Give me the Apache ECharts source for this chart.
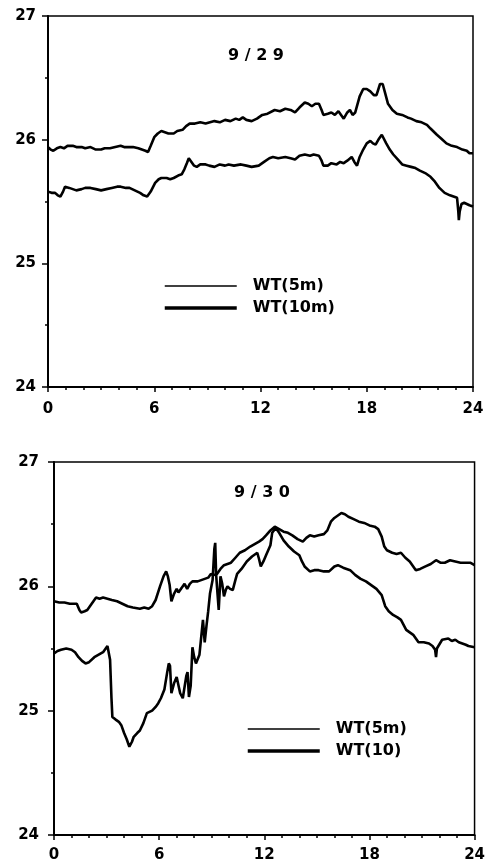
<!DOCTYPE html>
<html><head><meta charset="utf-8">
<script src="https://cdn.jsdelivr.net/npm/echarts@6/dist/echarts.min.js"></script>
<style>html,body{margin:0;padding:0;background:#fff}#c{width:488px;height:865px}</style>
</head><body><div id="c"></div>
<script>
const xTicks = [0, 6, 12, 18, 24];
const yTicks = [24, 25, 26, 27];
const titles = ['9 / 2 9', '9 / 3 0'];
const legendTop = ['WT(5m)', 'WT(10m)'];
const legendBottom = ['WT(5m)', 'WT(10)'];

const wt5_929 = [[0,25.94],[0.15,25.92],[0.3,25.91],[0.5,25.93],[0.7,25.94],[0.9,25.93],[1.1,25.95],[1.4,25.95],[1.6,25.94],[1.9,25.94],[2.1,25.93],[2.4,25.94],[2.7,25.92],[3.0,25.92],[3.2,25.93],[3.5,25.93],[3.8,25.94],[4.1,25.95],[4.3,25.94],[4.6,25.94],[4.8,25.94],[5.1,25.93],[5.3,25.92],[5.5,25.91],[5.65,25.90],[5.8,25.95],[6.0,26.02],[6.2,26.05],[6.4,26.07],[6.6,26.06],[6.8,26.05],[7.1,26.05],[7.3,26.07],[7.6,26.08],[7.8,26.11],[8.0,26.13],[8.3,26.13],[8.6,26.14],[8.9,26.13],[9.15,26.14],[9.4,26.15],[9.7,26.14],[10.0,26.16],[10.3,26.15],[10.6,26.17],[10.8,26.16],[11.0,26.18],[11.2,26.16],[11.5,26.15],[11.8,26.17],[12.1,26.20],[12.4,26.21],[12.8,26.24],[13.1,26.23],[13.4,26.25],[13.7,26.24],[13.95,26.22],[14.2,26.26],[14.5,26.30],[14.7,26.29],[14.9,26.27],[15.1,26.29],[15.3,26.29],[15.45,26.24],[15.55,26.20],[15.8,26.21],[16.0,26.22],[16.2,26.20],[16.4,26.23],[16.5,26.22],[16.7,26.17],[16.9,26.22],[17.05,26.24],[17.2,26.20],[17.35,26.22],[17.6,26.35],[17.8,26.41],[18.0,26.41],[18.2,26.39],[18.4,26.36],[18.55,26.36],[18.75,26.45],[18.9,26.45],[19.05,26.37],[19.2,26.29],[19.45,26.24],[19.7,26.21],[20.0,26.20],[20.3,26.18],[20.5,26.17],[20.8,26.15],[21.1,26.14],[21.4,26.12],[21.6,26.09],[21.96,26.04],[22.2,26.01],[22.5,25.97],[22.8,25.95],[23.1,25.94],[23.4,25.92],[23.65,25.91],[23.8,25.89],[24,25.89]];

const wt10_929 = [[0,25.58],[0.2,25.57],[0.4,25.57],[0.55,25.55],[0.7,25.54],[0.85,25.58],[0.96,25.62],[1.2,25.61],[1.4,25.60],[1.6,25.59],[1.9,25.60],[2.1,25.61],[2.4,25.61],[2.7,25.60],[3.0,25.59],[3.3,25.60],[3.6,25.61],[3.9,25.62],[4.1,25.62],[4.4,25.61],[4.6,25.61],[4.9,25.59],[5.2,25.57],[5.4,25.55],[5.6,25.54],[5.8,25.58],[6.05,25.65],[6.25,25.68],[6.4,25.69],[6.7,25.69],[6.9,25.68],[7.1,25.69],[7.35,25.71],[7.55,25.72],[7.7,25.76],[7.84,25.81],[7.95,25.85],[8.1,25.82],[8.25,25.79],[8.4,25.78],[8.6,25.80],[8.9,25.80],[9.1,25.79],[9.4,25.78],[9.7,25.80],[10.0,25.79],[10.2,25.80],[10.5,25.79],[10.9,25.80],[11.2,25.79],[11.5,25.78],[11.9,25.79],[12.2,25.82],[12.5,25.85],[12.7,25.86],[13.0,25.85],[13.4,25.86],[13.7,25.85],[13.95,25.84],[14.2,25.87],[14.5,25.88],[14.8,25.87],[15.0,25.88],[15.3,25.87],[15.45,25.83],[15.55,25.79],[15.8,25.79],[16.0,25.81],[16.3,25.80],[16.5,25.82],[16.7,25.81],[16.9,25.83],[17.15,25.86],[17.3,25.82],[17.45,25.79],[17.6,25.86],[17.8,25.92],[18.0,25.97],[18.2,25.99],[18.35,25.97],[18.5,25.96],[18.7,26.01],[18.85,26.04],[18.95,26.04],[19.1,25.97],[19.3,25.92],[19.5,25.88],[19.75,25.84],[20.0,25.80],[20.25,25.79],[20.5,25.78],[20.75,25.77],[21.0,25.75],[21.3,25.73],[21.6,25.70],[21.85,25.66],[22.1,25.61],[22.4,25.57],[22.7,25.55],[22.9,25.54],[23.1,25.53],[23.17,25.42],[23.2,25.35],[23.25,25.42],[23.35,25.48],[23.5,25.49],[23.65,25.48],[23.8,25.47],[24,25.46]];

const wt5_930 = [[0,25.88],[0.3,25.87],[0.6,25.87],[0.9,25.86],[1.1,25.86],[1.3,25.86],[1.45,25.81],[1.55,25.79],[1.75,25.80],[1.9,25.81],[2.1,25.85],[2.4,25.91],[2.6,25.90],[2.8,25.91],[3.05,25.90],[3.3,25.89],[3.6,25.88],[3.9,25.86],[4.2,25.84],[4.5,25.83],[4.9,25.82],[5.15,25.83],[5.4,25.82],[5.6,25.84],[5.8,25.89],[6.05,26.00],[6.25,26.08],[6.4,26.12],[6.5,26.08],[6.6,26.01],[6.7,25.88],[6.85,25.94],[7.0,25.98],[7.1,25.95],[7.2,25.96],[7.35,26.00],[7.45,26.02],[7.6,25.98],[7.75,26.02],[7.9,26.04],[8.2,26.04],[8.4,26.05],[8.6,26.06],[8.8,26.07],[8.95,26.10],[9.1,26.09],[9.3,26.10],[9.5,26.14],[9.7,26.17],[9.9,26.18],[10.1,26.19],[10.35,26.23],[10.6,26.27],[10.9,26.29],[11.2,26.32],[11.45,26.34],[11.7,26.36],[11.9,26.38],[12.1,26.41],[12.35,26.45],[12.6,26.48],[12.85,26.46],[13.1,26.44],[13.35,26.43],[13.6,26.41],[13.9,26.38],[14.2,26.36],[14.4,26.39],[14.6,26.41],[14.85,26.40],[15.1,26.41],[15.4,26.42],[15.6,26.45],[15.8,26.52],[16.0,26.55],[16.2,26.57],[16.4,26.59],[16.6,26.58],[16.8,26.56],[17.1,26.54],[17.4,26.52],[17.7,26.51],[18.0,26.49],[18.3,26.48],[18.5,26.46],[18.7,26.40],[18.85,26.32],[19.0,26.29],[19.3,26.27],[19.55,26.26],[19.8,26.27],[20.05,26.23],[20.3,26.20],[20.5,26.16],[20.65,26.13],[20.9,26.14],[21.2,26.16],[21.5,26.18],[21.8,26.21],[22.05,26.19],[22.3,26.19],[22.6,26.21],[22.9,26.20],[23.2,26.19],[23.5,26.19],[23.75,26.19],[24,26.17]];

const wt10_930 = [[0,25.46],[0.2,25.48],[0.4,25.49],[0.7,25.50],[1.0,25.49],[1.2,25.47],[1.4,25.43],[1.6,25.40],[1.8,25.38],[2.0,25.39],[2.3,25.43],[2.55,25.45],[2.8,25.47],[3.05,25.52],[3.15,25.52],[3.2,25.41],[3.28,25.10],[3.33,24.95],[3.5,24.93],[3.7,24.91],[3.85,24.88],[4.0,24.82],[4.15,24.77],[4.3,24.71],[4.45,24.75],[4.55,24.79],[4.75,24.82],[4.9,24.84],[5.1,24.90],[5.3,24.98],[5.45,24.99],[5.6,25.00],[5.8,25.03],[5.95,25.06],[6.1,25.10],[6.3,25.17],[6.45,25.30],[6.55,25.38],[6.62,25.36],[6.7,25.14],[6.85,25.22],[7.0,25.27],[7.2,25.14],[7.35,25.10],[7.45,25.11],[7.55,25.28],[7.62,25.31],[7.7,25.11],[7.8,25.20],[7.9,25.51],[8.0,25.43],[8.1,25.38],[8.3,25.45],[8.5,25.73],[8.6,25.55],[8.7,25.68],[8.8,25.80],[8.9,25.94],[9.05,26.05],[9.15,26.30],[9.2,26.35],[9.25,26.10],[9.3,26.00],[9.4,25.81],[9.5,26.08],[9.6,26.02],[9.7,25.92],[9.8,25.97],[9.9,26.00],[10.05,25.98],[10.2,25.97],[10.35,26.05],[10.45,26.10],[10.7,26.14],[11.0,26.20],[11.3,26.24],[11.6,26.27],[11.7,26.22],[11.8,26.16],[11.95,26.20],[12.1,26.25],[12.35,26.33],[12.45,26.43],[12.65,26.47],[12.85,26.43],[13.1,26.37],[13.4,26.32],[13.7,26.28],[14.0,26.25],[14.15,26.20],[14.3,26.16],[14.6,26.12],[14.85,26.13],[15.1,26.13],[15.4,26.12],[15.7,26.12],[16.0,26.16],[16.2,26.17],[16.5,26.15],[16.9,26.13],[17.2,26.09],[17.5,26.06],[17.8,26.04],[18.0,26.02],[18.2,26.00],[18.4,25.98],[18.7,25.93],[18.9,25.84],[19.1,25.80],[19.35,25.77],[19.6,25.75],[19.8,25.73],[20.1,25.65],[20.3,25.63],[20.5,25.61],[20.8,25.55],[21.1,25.55],[21.4,25.54],[21.6,25.52],[21.75,25.49],[21.8,25.43],[21.85,25.50],[22.15,25.57],[22.5,25.58],[22.7,25.56],[22.9,25.57],[23.1,25.55],[23.3,25.54],[23.5,25.53],[23.65,25.52],[24,25.51]];

const FONT = 'DejaVu Sans';
const chart = echarts.init(document.getElementById('c'), null, {renderer: 'canvas'});

function xAx(idx, margin) {
  return {
    type: 'value', gridIndex: idx, min: xTicks[0], max: xTicks[xTicks.length - 1], interval: 6,
    axisLine: {lineStyle: {color: '#000', width: 2}},
    axisTick: {show: true, length: 5, lineStyle: {color: '#000', width: 1.5}},
    minorTick: {show: true, splitNumber: 6, length: 3, lineStyle: {color: '#000', width: 1.5}},
    splitLine: {show: false},
    axisLabel: {margin: margin, color: '#000', fontFamily: FONT, fontWeight: 'bold', fontSize: 15,
      formatter: v => xTicks.includes(v) ? String(v) : ''}
  };
}
function yAx(idx, margin) {
  return {
    type: 'value', gridIndex: idx, min: yTicks[0], max: yTicks[yTicks.length - 1], interval: 1,
    axisLine: {show: true, lineStyle: {color: '#000', width: 2}},
    axisTick: {show: true, length: 6, lineStyle: {color: '#000', width: 1.5}},
    minorTick: {show: true, splitNumber: 2, length: 3, lineStyle: {color: '#000', width: 1.5}},
    splitLine: {show: false},
    axisLabel: {margin: margin, color: '#000', fontFamily: FONT, fontWeight: 'bold', fontSize: 15,
      formatter: v => yTicks.includes(v) ? String(v) : ''}
  };
}
function ser(name, data, idx) {
  return {
    type: 'line', name: name, data: data, xAxisIndex: idx, yAxisIndex: idx,
    symbol: 'none', showSymbol: false, smooth: false,
    lineStyle: {color: '#000', width: 2.6}, itemStyle: {color: '#000'}
  };
}
function leg(names, left, top) {
  const hide = {opacity: 0, color: 'rgba(0,0,0,0)', borderWidth: 0};
  return {
    orient: 'vertical', left: left, top: top, itemWidth: 72, itemHeight: 16, itemGap: 6,
    selectedMode: false,
    data: [{name: names[0], lineStyle: {width: 1.5, color: '#000'}, itemStyle: hide},
           {name: names[1], lineStyle: {width: 3.5, color: '#000'}, itemStyle: hide}],
    textStyle: {fontFamily: FONT, fontWeight: 'bold', fontSize: 16, color: '#000',
      lineHeight: 16, padding: [0, 0, 0, 11]}
  };
}

chart.setOption({
  animation: false,
  backgroundColor: '#fff',
  grid: [
    {left: 48, right: 15, top: 16, height: 371, show: true, borderColor: '#000', borderWidth: 1.5, backgroundColor: 'transparent'},
    {left: 54, right: 7, top: 462, height: 373, show: true, borderColor: '#000', borderWidth: 1.5, backgroundColor: 'transparent'}
  ],
  xAxis: [xAx(0, 15), xAx(1, 13)],
  yAxis: [yAx(0, 12), yAx(1, 15)],
  legend: [leg(legendTop, 158, 273), leg(legendBottom, 241, 716)],
  graphic: [
    {type: 'text', x: 256, y: 56, style: {text: titles[0], align: 'center', verticalAlign: 'middle',
      font: 'bold 16px "DejaVu Sans"', fill: '#000'}},
    {type: 'text', x: 262, y: 493, style: {text: titles[1], align: 'center', verticalAlign: 'middle',
      font: 'bold 16px "DejaVu Sans"', fill: '#000'}}
  ],
  series: [
    ser(legendTop[0], wt5_929, 0),
    ser(legendTop[1], wt10_929, 0),
    ser(legendBottom[0], wt5_930, 1),
    ser(legendBottom[1], wt10_930, 1)
  ]
});
</script></body></html>
